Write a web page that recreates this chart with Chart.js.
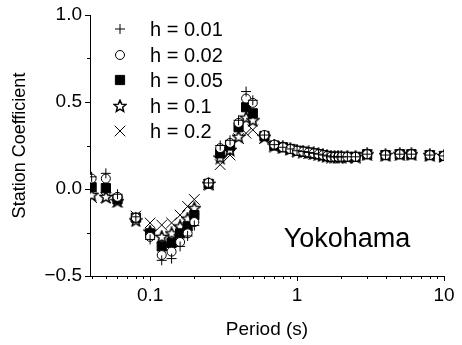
<!DOCTYPE html>
<html>
<head>
<meta charset="utf-8">
<script src="https://cdn.jsdelivr.net/npm/chart.js@4.4.1/dist/chart.umd.min.js"></script>
<style>
  html, body { margin: 0; padding: 0; background: #fff; }
  #wrap { width: 462px; height: 345px; }
</style>
</head>
<body>
<div id="wrap"><canvas id="chart" width="462" height="345"></canvas></div>
<script>
// periods (s)
const periods = [0.04, 0.05, 0.06, 0.08, 0.1, 0.12, 0.14, 0.16, 0.18, 0.2, 0.25, 0.3, 0.35, 0.4, 0.45, 0.5,
  0.6, 0.7, 0.8, 0.9, 1.0, 1.1, 1.2, 1.3, 1.4, 1.5, 1.6, 1.7, 1.8, 1.9, 2.0, 2.2, 2.5, 3, 4, 5, 6, 8, 10];

// station coefficient per damping
const h001 = [0.07, 0.09, -0.03, -0.16, -0.29, -0.41, -0.40, -0.33, -0.27, -0.21, 0.035, 0.25, 0.28, 0.395, 0.56, 0.51,
  0.31, 0.255, 0.24, 0.23, 0.22, 0.215, 0.21, 0.205, 0.2, 0.195, 0.19, 0.185, 0.185, 0.185, 0.185, 0.185, 0.185, 0.2, 0.195, 0.2, 0.2, 0.195, 0.19];
const h002 = [0.06, 0.06, -0.045, -0.165, -0.275, -0.38, -0.36, -0.305, -0.255, -0.19, 0.035, 0.235, 0.265, 0.38, 0.52, 0.495,
  0.31, 0.255, 0.24, 0.23, 0.22, 0.215, 0.21, 0.205, 0.2, 0.195, 0.19, 0.185, 0.185, 0.185, 0.185, 0.185, 0.185, 0.2, 0.195, 0.2, 0.2, 0.195, 0.19];
const h005 = [0.01, 0.005, -0.06, -0.165, -0.255, -0.33, -0.31, -0.255, -0.215, -0.15, 0.03, 0.205, 0.25, 0.355, 0.47, 0.435,
  0.305, 0.25, 0.24, 0.23, 0.22, 0.215, 0.21, 0.205, 0.2, 0.195, 0.19, 0.185, 0.185, 0.185, 0.185, 0.185, 0.185, 0.2, 0.195, 0.2, 0.2, 0.195, 0.19];
const h01 = [-0.035, -0.045, -0.07, -0.18, -0.245, -0.275, -0.255, -0.215, -0.17, -0.11, 0.03, 0.18, 0.225, 0.30, 0.41, 0.395,
  0.30, 0.25, 0.24, 0.23, 0.22, 0.215, 0.21, 0.205, 0.2, 0.195, 0.19, 0.185, 0.185, 0.185, 0.185, 0.185, 0.185, 0.2, 0.195, 0.2, 0.2, 0.195, 0.19];
const h02 = [-0.05, -0.05, -0.075, -0.155, -0.195, -0.207, -0.195, -0.15, -0.1, -0.06, 0.025, 0.14, 0.195, 0.29, 0.32, 0.34,
  0.29, 0.245, 0.235, 0.225, 0.215, 0.21, 0.205, 0.2, 0.195, 0.19, 0.185, 0.185, 0.18, 0.18, 0.18, 0.18, 0.18, 0.195, 0.19, 0.195, 0.195, 0.19, 0.185];

const seriesLabels = ['h = 0.01', 'h = 0.02', 'h = 0.05', 'h = 0.1', 'h = 0.2'];

// axis ticks
const xMajorTicks = [0.1, 1, 10];
const xMinorTicks = [0.04, 0.05, 0.06, 0.07, 0.08, 0.09, 0.2, 0.3, 0.4, 0.5, 0.6, 0.7, 0.8, 0.9, 2, 3, 4, 5, 6, 7, 8, 9];
const yMajorTicks = [-0.5, 0, 0.5, 1.0];
const yMinorTicks = [-0.25, 0.25, 0.75];

const FONT = "'Liberation Sans', Arial, sans-serif";

// open five-point star marker
function makeStar() {
    const c = document.createElement('canvas');
    c.width = 14; c.height = 14;
    const g = c.getContext('2d');
    g.beginPath();
    for (let i = 0; i < 10; i++) {
        const r = i % 2 === 0 ? 6.2 : 2.8;
        const a = -Math.PI / 2 + i * Math.PI / 5;
        const px = 7 + r * Math.cos(a), py = 7.4 + r * Math.sin(a);
        if (i === 0) g.moveTo(px, py); else g.lineTo(px, py);
    }
    g.closePath();
    g.fillStyle = '#fff';
    g.fill();
    g.lineWidth = 1.5;
    g.lineJoin = 'miter';
    g.strokeStyle = '#000';
    g.stroke();
    return c;
}
const starImg = makeStar();

function toPoints(arr) {
    return periods.map((p, i) => ({ x: p, y: arr[i] }));
}

const markers = [
    { data: h001, pointStyle: 'cross', radius: 5, fill: '#000' },
    { data: h002, pointStyle: 'circle', radius: 4.5, fill: '#fff' },
    { data: h005, pointStyle: 'rect', radius: 6.5, fill: '#000' },
    { data: h01, pointStyle: starImg, radius: 6, fill: '#fff' },
    { data: h02, pointStyle: 'crossRot', radius: 7.5, fill: '#000' }
];

const extras = {
    id: 'extras',
    afterDraw(chart) {
        const ctx = chart.ctx;
        const xs = chart.scales.x, ys = chart.scales.y;
        const area = chart.chartArea;
        ctx.save();
        ctx.strokeStyle = '#000';
        ctx.lineWidth = 1;
        // minor ticks
        ctx.beginPath();
        xMinorTicks.forEach(v => {
            const px = Math.round(xs.getPixelForValue(v)) + 0.5;
            ctx.moveTo(px, area.bottom);
            ctx.lineTo(px, area.bottom + 3);
        });
        yMinorTicks.forEach(v => {
            const py = Math.round(ys.getPixelForValue(v)) + 0.5;
            ctx.moveTo(area.left - 3, py);
            ctx.lineTo(area.left, py);
        });
        ctx.stroke();

        // legend
        ctx.font = '20px ' + FONT;
        ctx.textBaseline = 'middle';
        ctx.textAlign = 'left';
        chart.data.datasets.forEach((ds, i) => {
            const cy = Math.round(area.top + 14 + i * 25.5);
            const cx = area.left + 30;
            ctx.fillStyle = ds.backgroundColor;
            ctx.strokeStyle = '#000';
            ctx.lineWidth = 1;
            Chart.helpers.drawPoint(ctx, {
                pointStyle: ds.pointStyle, radius: ds.pointRadius, rotation: 0, borderWidth: 1
            }, cx, cy);
            ctx.fillStyle = '#000';
            ctx.fillText(seriesLabels[i], area.left + 60, cy + 1);
        });

        // site name
        ctx.font = '27px ' + FONT;
        ctx.textAlign = 'center';
        ctx.textBaseline = 'alphabetic';
        ctx.fillText('Yokohama', 347, 247);
        ctx.restore();
    }
};

const fmtY = v => (v < 0 ? '\u2212' : '') + Math.abs(v).toFixed(1);

new Chart(document.getElementById('chart'), {
    type: 'scatter',
    data: {
        datasets: markers.map((m, i) => ({
            label: seriesLabels[i],
            data: toPoints(m.data),
            pointStyle: m.pointStyle,
            pointRadius: m.radius,
            pointHoverRadius: m.radius,
            borderColor: '#000',
            backgroundColor: m.fill,
            borderWidth: 1,
            showLine: false
        }))
    },
    options: {
        responsive: false,
        animation: false,
        events: [],
        layout: { padding: { top: 15, right: 18, left: 0, bottom: 0 } },
        plugins: {
            legend: { display: false },
            tooltip: { enabled: false }
        },
        scales: {
            x: {
                type: 'logarithmic',
                min: 0.039,
                max: 10,
                afterBuildTicks: s => { s.ticks = xMajorTicks.map(v => ({ value: v })); },
                afterFit: s => { s.height = 69; },
                grid: { drawOnChartArea: false, drawTicks: true, tickLength: 5, color: '#000' },
                border: { display: true, color: '#000', width: 1 },
                ticks: {
                    color: '#000',
                    font: { family: FONT, size: 19 },
                    padding: 3,
                    maxRotation: 0,
                    autoSkip: false,
                    callback: v => String(v)
                },
                title: {
                    display: true,
                    text: 'Period (s)',
                    color: '#000',
                    font: { family: FONT, size: 19 },
                    padding: { top: 0, bottom: 4 }
                }
            },
            y: {
                min: -0.5,
                max: 1.0,
                afterBuildTicks: s => { s.ticks = yMajorTicks.map(v => ({ value: v })); },
                afterFit: s => { s.width = 90; },
                grid: { drawOnChartArea: false, drawTicks: true, tickLength: 5, color: '#000' },
                border: { display: true, color: '#000', width: 1 },
                ticks: {
                    color: '#000',
                    font: { family: FONT, size: 19 },
                    padding: 3,
                    callback: v => fmtY(v)
                },
                title: {
                    display: true,
                    text: 'Station Coefficient',
                    color: '#000',
                    font: { family: FONT, size: 18 },
                    padding: { top: 9, bottom: 0 }
                }
            }
        }
    },
    plugins: [extras]
});
</script>
</body>
</html>
